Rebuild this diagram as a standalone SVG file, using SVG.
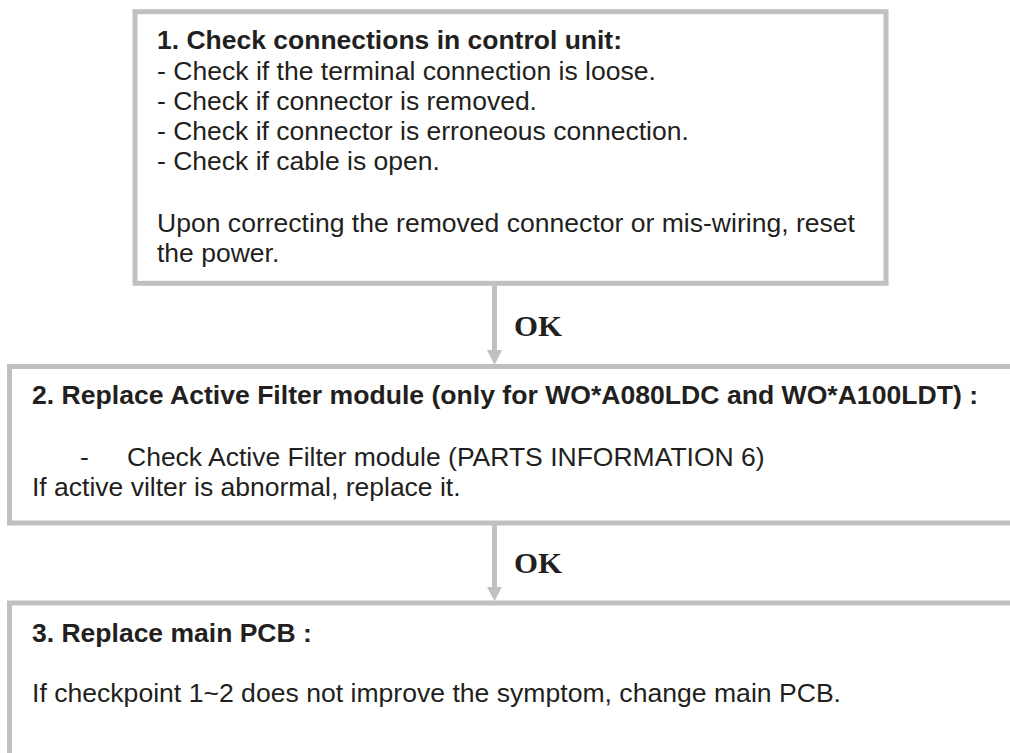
<svg xmlns="http://www.w3.org/2000/svg" width="1010" height="753" viewBox="0 0 1010 753">
<style>
.box{fill:#fff;stroke:#c0c0c0;stroke-width:5}
.t{font-family:"Liberation Sans",Arial,sans-serif;font-size:26.5px;fill:#231f20}
.b{font-weight:bold}
.ok{font-family:"Liberation Serif","Times New Roman",serif;font-size:30px;font-weight:bold;fill:#231f20}
.conn{stroke:#c0c0c0;stroke-width:5;fill:none}
.head{fill:#c0c0c0}
</style>
<rect width="1010" height="753" fill="#fff"/>
<g id="connectors">
<line class="conn" x1="494.5" y1="286" x2="494.5" y2="352"/>
<polygon class="head" points="487,350 502,350 494.5,365"/>
<text class="ok" x="514" y="336" textLength="48" lengthAdjust="spacingAndGlyphs">OK</text>
<line class="conn" x1="494.5" y1="525" x2="494.5" y2="589"/>
<polygon class="head" points="487,587 502,587 494.5,601"/>
<text class="ok" x="514" y="573" textLength="48" lengthAdjust="spacingAndGlyphs">OK</text>
</g>
<g id="node1">
<rect class="box" x="135" y="11.7" width="751" height="271.6"/>
<text class="t b" x="157" y="49" textLength="465" lengthAdjust="spacingAndGlyphs">1. Check connections in control unit:</text>
<text class="t" x="157" y="79.5" textLength="499" lengthAdjust="spacingAndGlyphs">- Check if the terminal connection is loose.</text>
<text class="t" x="157" y="110">- Check if connector is removed.</text>
<text class="t" x="157" y="140">- Check if connector is erroneous connection.</text>
<text class="t" x="157" y="170">- Check if cable is open.</text>
<text class="t" x="157" y="231.5" textLength="698" lengthAdjust="spacingAndGlyphs">Upon correcting the removed connector or mis-wiring, reset</text>
<text class="t" x="157" y="261.5">the power.</text>
</g>
<g id="node2">
<rect class="box" x="9.5" y="366.5" width="1010" height="156.5"/>
<text class="t b" x="32" y="403.5" textLength="946" lengthAdjust="spacingAndGlyphs">2. Replace Active Filter module (only for WO*A080LDC and WO*A100LDT) :</text>
<text class="t" x="80" y="466">-</text>
<text class="t" x="127" y="466">Check Active Filter module (PARTS INFORMATION 6)</text>
<text class="t" x="32" y="495.5">If active vilter is abnormal, replace it.</text>
</g>
<g id="node3">
<rect class="box" x="9.5" y="603" width="1010" height="200"/>
<text class="t b" x="32" y="641.5">3. Replace main PCB :</text>
<text class="t" x="32" y="701.5" textLength="809" lengthAdjust="spacingAndGlyphs">If checkpoint 1~2 does not improve the symptom, change main PCB.</text>
</g>
</svg>
